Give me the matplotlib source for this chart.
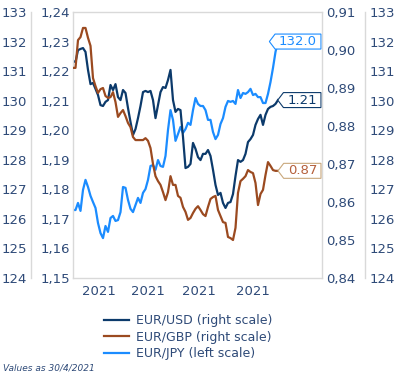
import matplotlib.pyplot as plt
import matplotlib.transforms as mtransforms
import numpy as np
from matplotlib.path import Path
from matplotlib.ticker import FuncFormatter, MultipleLocator

# exchange rates, daily-ish observations up to 30/4/2021
eur_jpy = [126.30, 126.30, 126.54, 126.27, 126.98, 127.32, 127.08, 126.78, 126.57, 126.37,
           125.86, 125.52, 125.35, 125.76, 125.56, 126.03, 126.10, 125.93, 125.96, 126.23,
           127.08, 127.05, 126.64, 126.34, 126.23, 126.47, 126.71, 126.54, 126.88, 127.01,
           127.32, 127.79, 127.82, 127.66, 127.99, 127.79, 127.76, 128.13, 129.01, 129.68,
           129.35, 128.64, 128.87, 129.11, 128.91, 129.04, 129.25, 129.18, 129.68, 130.09,
           129.89, 129.82, 129.82, 129.68, 129.35, 129.35, 128.94, 128.70, 128.84, 129.21,
           129.41, 129.79, 129.99, 129.96, 129.99, 129.89, 130.36, 130.09, 130.26, 130.23,
           130.29, 130.40, 130.19, 130.23, 130.12, 130.12, 129.92, 129.92, 130.23, 130.63,
           131.11, 131.65, 132.00]
eur_usd = [1.2234, 1.2231, 1.2271, 1.2275, 1.2278, 1.2265, 1.2204, 1.2156, 1.2160, 1.2140,
           1.2119, 1.2085, 1.2082, 1.2096, 1.2102, 1.2153, 1.2136, 1.2156, 1.2112, 1.2102,
           1.2136, 1.2126, 1.2075, 1.2028, 1.1984, 1.2004, 1.2041, 1.2082, 1.2129, 1.2133,
           1.2129, 1.2133, 1.2102, 1.2041, 1.2085, 1.2129, 1.2146, 1.2143, 1.2170, 1.2204,
           1.2102, 1.2062, 1.2072, 1.2068, 1.1977, 1.1872, 1.1876, 1.1886, 1.1957, 1.1937,
           1.1909, 1.1899, 1.1920, 1.1920, 1.1933, 1.1913, 1.1866, 1.1815, 1.1781, 1.1788,
           1.1754, 1.1737, 1.1754, 1.1757, 1.1784, 1.1845, 1.1899, 1.1893, 1.1899, 1.1920,
           1.1960, 1.1970, 1.1984, 1.2018, 1.2038, 1.2052, 1.2018, 1.2052, 1.2072, 1.2079,
           1.2082, 1.2089, 1.2102]
eur_gbp = [0.8953, 0.8953, 0.9026, 0.9034, 0.9058, 0.9058, 0.9032, 0.9011, 0.8926, 0.8905,
           0.8887, 0.8897, 0.8900, 0.8879, 0.8874, 0.8876, 0.8889, 0.8863, 0.8824, 0.8834,
           0.8842, 0.8826, 0.8808, 0.8797, 0.8771, 0.8763, 0.8763, 0.8763, 0.8763, 0.8768,
           0.8761, 0.8742, 0.8700, 0.8668, 0.8655, 0.8645, 0.8626, 0.8605, 0.8626, 0.8668,
           0.8645, 0.8645, 0.8616, 0.8611, 0.8587, 0.8574, 0.8553, 0.8558, 0.8571, 0.8582,
           0.8589, 0.8579, 0.8568, 0.8563, 0.8587, 0.8608, 0.8613, 0.8616, 0.8579, 0.8563,
           0.8547, 0.8545, 0.8508, 0.8505, 0.8500, 0.8532, 0.8624, 0.8655, 0.8661, 0.8668,
           0.8684, 0.8679, 0.8676, 0.8650, 0.8592, 0.8621, 0.8632, 0.8671, 0.8705, 0.8695,
           0.8684, 0.8682, 0.8682]

tick_pos = [10.5, 30, 50.5, 72]
tick_labels = ['2021', '2021', '2021', '2021']

c_usd = '#0c3a6b'
c_gbp = '#9b4a20'
c_jpy = '#1b8cff'
c_txt = '#2e4a78'
c_grey = '#d9d9d9'

plt.rcParams['font.family'] = ['DejaVu Sans']
plt.rcParams['font.size'] = 9.5

x = np.arange(len(eur_jpy))


def tag_shape(x0, y0, width, height, mutation_size):
    # box with a pointed left side
    pad = 0.3 * mutation_size
    x0, y0 = x0 - pad, y0 - 0.25 * pad
    width, height = width + 2 * pad, height + 0.5 * pad
    mid = y0 + height / 2
    tip = 0.38 * height
    verts = [(x0 - tip, mid), (x0, y0), (x0 + width, y0), (x0 + width, y0 + height),
             (x0, y0 + height), (x0 - tip, mid)]
    return Path(verts, closed=True)


def comma_fmt(nd):
    return FuncFormatter(lambda v, p: f'{v:.{nd}f}'.replace('.', ','))


def style_spines(a, keep, pos=None):
    for name, s in a.spines.items():
        s.set_color(c_grey)
        s.set_linewidth(1.0)
        s.set_visible(name in keep)
    if pos is not None:
        a.spines[keep[0]].set_position(('outward', pos))


fig = plt.figure(figsize=(3.97, 3.78), dpi=100)
ax = fig.add_axes([73 / 397, 1 - 278 / 378, 249 / 397, 266 / 378])
ax_usd = ax.twinx()
ax_gbp = ax.twinx()
ax_jpy2 = ax.twinx()

ax.plot(x, eur_jpy, color=c_jpy, lw=1.6)
ax_usd.plot(x, eur_usd, color=c_usd, lw=1.6)
ax_gbp.plot(x, eur_gbp, color=c_gbp, lw=1.6)

ax.set_xlim(0, 99.6)
ax.set_ylim(124, 133)
ax_jpy2.set_ylim(124, 133)
ax_usd.set_ylim(1.15, 1.24)
ax_gbp.set_ylim(0.84, 0.91)

style_spines(ax, ['left', 'top', 'bottom'], 42 * 0.72)
style_spines(ax_usd, ['left'])
style_spines(ax_gbp, ['right'])
style_spines(ax_jpy2, ['right'], 43 * 0.72)

ax.yaxis.set_ticks_position('left')
ax_usd.yaxis.set_ticks_position('left')
ax_gbp.yaxis.set_ticks_position('right')
ax_jpy2.yaxis.set_ticks_position('right')

ax.yaxis.set_major_locator(MultipleLocator(1))
ax_jpy2.yaxis.set_major_locator(MultipleLocator(1))
ax_usd.yaxis.set_major_locator(MultipleLocator(0.01))
ax_gbp.yaxis.set_major_locator(MultipleLocator(0.01))
ax_usd.yaxis.set_major_formatter(comma_fmt(2))
ax_gbp.yaxis.set_major_formatter(comma_fmt(2))

ax.set_xticks(tick_pos)
ax.set_xticklabels(tick_labels)
ax.tick_params(axis='x', length=0, pad=5, colors=c_txt, labelsize=9.5)
ax.tick_params(axis='y', length=0, pad=3, colors=c_txt, labelsize=9.5)
ax_usd.tick_params(axis='y', length=0, pad=2, colors=c_txt, labelsize=9.5)
ax_gbp.tick_params(axis='y', length=0, pad=3, colors=c_txt, labelsize=9.5)
ax_jpy2.tick_params(axis='y', length=0, pad=3.5, colors=c_txt, labelsize=9.5,
                    right=True, labelright=True)

# end-value tags
tags = [(ax, eur_jpy[-1], f'{eur_jpy[-1]:.1f}', c_jpy, c_jpy),
        (ax_usd, eur_usd[-1], f'{eur_usd[-1]:.2f}', c_usd, c_usd),
        (ax_gbp, eur_gbp[-1], f'{eur_gbp[-1]:.2f}', '#b5603c', '#c9a87c')]
for a, v, s, tc, ec in tags:
    tr = mtransforms.blended_transform_factory(a.transAxes, a.transData)
    a.text(0.98, v, s, transform=tr, ha='right', va='center', color=tc, fontsize=9.5,
           bbox=dict(boxstyle=tag_shape, fc='white', ec=ec, lw=0.8), zorder=5)

handles = [ax_usd.lines[0], ax_gbp.lines[0], ax.lines[0]]
labels = ['EUR/USD (right scale)', 'EUR/GBP (right scale)', 'EUR/JPY (left scale)']
leg = fig.legend(handles, labels, loc='upper left', bbox_to_anchor=(104 / 397, 1 - 314 / 378),
                 frameon=False, borderpad=0, borderaxespad=0, handlelength=2.0,
                 handletextpad=0.6, labelspacing=0.3, fontsize=9)
for t in leg.get_texts():
    t.set_color(c_txt)

fig.text(3 / 397, 1 - 368 / 378, 'Values as 30/4/2021', fontsize=6.5, style='italic',
         color=c_txt, va='center')

fig.savefig('out.png', dpi=100)
